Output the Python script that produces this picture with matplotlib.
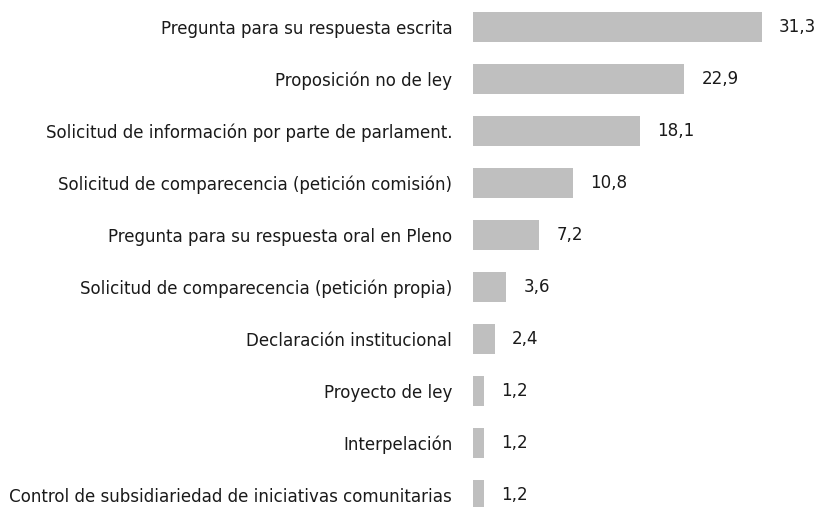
import matplotlib
matplotlib.use("Agg")
import matplotlib.pyplot as plt

categories = [
    "Pregunta para su respuesta escrita",
    "Proposición no de ley",
    "Solicitud de información por parte de parlament.",
    "Solicitud de comparecencia (petición comisión)",
    "Pregunta para su respuesta oral en Pleno",
    "Solicitud de comparecencia (petición propia)",
    "Declaración institucional",
    "Proyecto de ley",
    "Interpelación",
    "Control de subsidiariedad de iniciativas comunitarias",
]
values = [31.3, 22.9, 18.1, 10.8, 7.2, 3.6, 2.4, 1.2, 1.2, 1.2]
value_labels = ["31,3", "22,9", "18,1", "10,8", "7,2", "3,6", "2,4", "1,2", "1,2", "1,2"]

fig = plt.figure(figsize=(8.19, 5.07), dpi=100)
ax = fig.add_axes([473 / 819, 0, 1 - 473 / 819, 1])
ypos = list(range(len(categories)))
ax.barh(ypos, values, height=0.58, color="#bfbfbf")
ax.set_xlim(0, 346 / 9.23)
ax.set_ylim(480 / 52, -27 / 52)
for s in ax.spines.values():
    s.set_visible(False)
ax.set_xticks([])
ax.set_yticks(ypos)
ax.set_yticklabels(categories, fontsize=13.3, fontstretch="condensed", color="#1a1a1a")
ax.tick_params(axis="y", length=0, pad=15)
for y, v, lab in zip(ypos, values, value_labels):
    ax.annotate(lab, (v, y), xytext=(17, 0), textcoords="offset pixels",
                va="center", ha="left", fontsize=13.3, fontstretch="condensed", color="#1a1a1a")
fig.savefig("out.png", dpi=100)
